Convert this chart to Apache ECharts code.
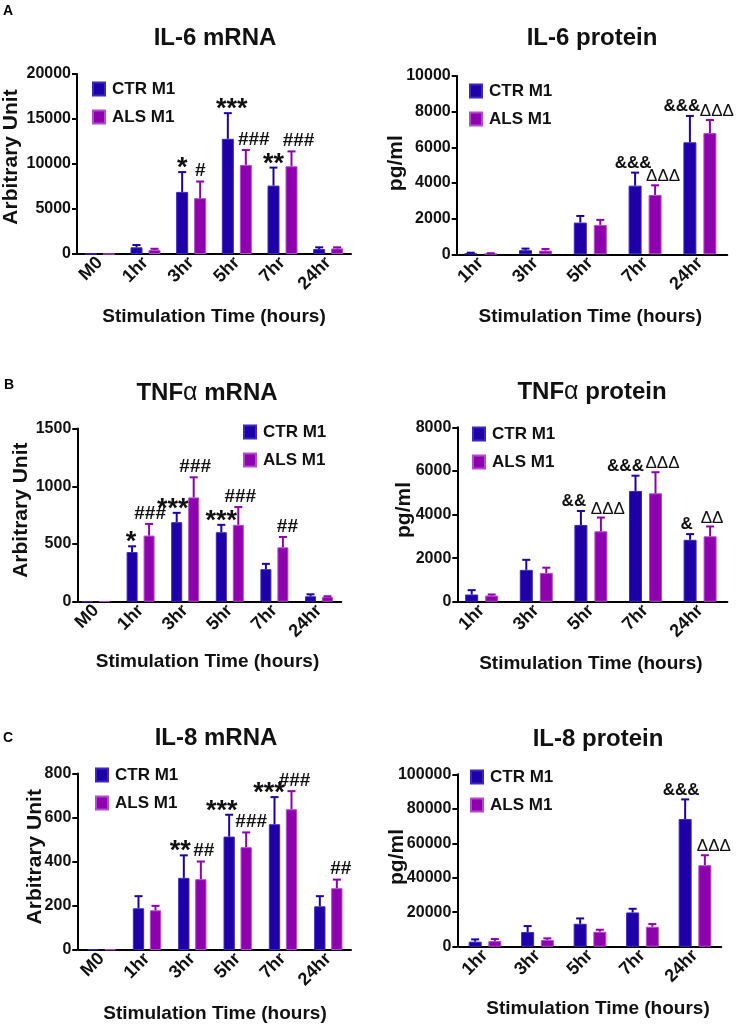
<!DOCTYPE html>
<html><head><meta charset="utf-8">
<script src="https://cdn.jsdelivr.net/npm/echarts@6/dist/echarts.min.js"></script>
<style>html,body{margin:0;padding:0;background:#fff}#c{width:739px;height:1025px}</style>
</head><body><div id="c"></div>
<script>
// ---------- DATA ----------
const catsMrna = ['M0', '1hr', '3hr', '5hr', '7hr', '24hr'];
const catsProt = ['1hr', '3hr', '5hr', '7hr', '24hr'];
const seriesNames = ['CTR M1', 'ALS M1'];

// IL-6 mRNA
const il6mCtr = [5, 740, 6900, 12800, 7600, 550];
const il6mCtrSem = [0, 260, 2200, 2850, 2000, 190];
const il6mAls = [5, 450, 6200, 9900, 9750, 620];
const il6mAlsSem = [0, 130, 1850, 1650, 1650, 120];
const il6mCtrAnn = ['', '', '*', '***', '**', ''];
const il6mAlsAnn = ['', '', '#', '###', '###', ''];

// IL-6 protein
const il6pCtr = [50, 230, 1780, 3850, 6280];
const il6pCtrSem = [40, 90, 370, 730, 1480];
const il6pAls = [35, 210, 1650, 3330, 6800];
const il6pAlsSem = [25, 90, 280, 540, 730];
const il6pCtrAnn = ['', '', '', '&&&', '&&&'];
const il6pAlsAnn = ['', '', '', 'ΔΔΔ', 'ΔΔΔ'];

// TNFα mRNA
const tnfmCtr = [0, 430, 689, 602, 282, 47];
const tnfmCtrSem = [0, 50, 81, 64, 46, 17];
const tnfmAls = [3, 573, 904, 666, 471, 41];
const tnfmAlsSem = [0, 101, 174, 154, 90, 6];
const tnfmCtrAnn = ['', '*', '***', '***', '', ''];
const tnfmAlsAnn = ['', '###', '###', '###', '##', ''];

// TNFα protein
const tnfpCtr = [330, 1460, 3520, 5080, 2840];
const tnfpCtrSem = [200, 460, 640, 700, 260];
const tnfpAls = [280, 1320, 3230, 4970, 3000];
const tnfpAlsSem = [50, 240, 630, 970, 450];
const tnfpCtrAnn = ['', '', '&&', '&&&', '&'];
const tnfpAlsAnn = ['', '', 'ΔΔΔ', 'ΔΔΔ', 'ΔΔ'];

// IL-8 mRNA
const il8mCtr = [3, 189, 327, 514, 570, 198];
const il8mCtrSem = [0, 55, 102, 99, 123, 46];
const il8mAls = [3, 180, 321, 466, 638, 280];
const il8mAlsSem = [0, 20, 80, 67, 82, 39];
const il8mCtrAnn = ['', '', '**', '***', '***', ''];
const il8mAlsAnn = ['', '', '##', '###', '###', '##'];

// IL-8 protein
const il8pCtr = [2900, 8490, 13310, 19870, 74070];
const il8pCtrSem = [1350, 3470, 3090, 2120, 11380];
const il8pAls = [3300, 3870, 8680, 11570, 47260];
const il8pAlsSem = [1150, 960, 1160, 1550, 5790];
const il8pCtrAnn = ['', '', '', '', '&&&'];
const il8pAlsAnn = ['', '', '', '', 'ΔΔΔ'];

// axis scales [min, max, interval]
const il6mAxis = [0, 20000, 5000];
const il6pAxis = [0, 10000, 2000];
const tnfmAxis = [0, 1500, 500];
const tnfpAxis = [0, 8000, 2000];
const il8mAxis = [0, 800, 200];
const il8pAxis = [0, 100000, 20000];

const titles = ['IL-6 mRNA', 'IL-6 protein', 'TNF{a|α} mRNA', 'TNF{a|α} protein', 'IL-8 mRNA', 'IL-8 protein'];
const yNames = ['Arbitrary Unit', 'pg/ml', 'Arbitrary Unit', 'pg/ml', 'Arbitrary Unit', 'pg/ml'];
const xName = 'Stimulation Time (hours)';

// ---------- LAYOUT / STYLE ----------
const FONT = '"Liberation Sans", Arial, sans-serif';
const COLORS = ['#1f00a6', '#8e00ae'];
const BORDERS = ['#3b27c2', '#b24ccc'];

// horizontal nudges of significance marks (px), per panel [ctr, als]
const panels = [
  {cats: catsMrna, d: [il6mCtr, il6mAls], s: [il6mCtrSem, il6mAlsSem], a: [il6mCtrAnn, il6mAlsAnn], ax: il6mAxis,
   grid: {left: 77, top: 74, width: 274, height: 180}, yOff: 0, bw: 12, gap: 6,
   title: [215, 38], legend: [92, 80.5], xGap: 53, yGap: 55, xPad: 0, yPad: 14,
   shift: [[0, 0, 0, 4, 0, 0], [0, 0, 0, 8, 7, 0]]},
  {cats: catsProt, d: [il6pCtr, il6pAls], s: [il6pCtrSem, il6pAlsSem], a: [il6pCtrAnn, il6pAlsAnn], ax: il6pAxis,
   grid: {left: 453.3, top: 76, width: 274, height: 178.3}, yOff: -3.4, bw: 13, gap: 7,
   title: [592, 38], legend: [469, 82.5], xGap: 53, yGap: 50, xPad: 0, yPad: 4,
   shift: [[0, 0, 0, -2, -8], [0, 0, 0, 8, 7]]},
  {cats: catsMrna, d: [tnfmCtr, tnfmAls], s: [tnfmCtrSem, tnfmAlsSem], a: [tnfmCtrAnn, tnfmAlsAnn], ax: tnfmAxis,
   grid: {left: 73.7, top: 428.6, width: 267.6, height: 173.1}, yOff: -3.6, bw: 11, gap: 6,
   title: [207, 393], legend: [243, 423.5], xGap: 51, yGap: 46, xPad: 0, yPad: 10,
   shift: [[0, -1, -4, 0, 0, 0], [0, 1, 1.5, 2, 4.5, 0]]},
  {cats: catsProt, d: [tnfpCtr, tnfpAls], s: [tnfpCtrSem, tnfpAlsSem], a: [tnfpCtrAnn, tnfpAlsAnn], ax: tnfpAxis,
   grid: {left: 454.4, top: 427.3, width: 273, height: 174.4}, yOff: -2.9, bw: 13, gap: 7,
   title: [592, 392], legend: [472, 425.5], xGap: 53, yGap: 43, xPad: 0, yPad: 9,
   shift: [[0, 0, -7, -10, -3.5], [0, 0, 7, 7, 2]]},
  {cats: catsMrna, d: [il8mCtr, il8mAls], s: [il8mCtrSem, il8mAlsSem], a: [il8mCtrAnn, il8mAlsAnn], ax: il8mAxis,
   grid: {left: 79, top: 773.5, width: 272, height: 176.5}, yOff: 1.7, bw: 11.3, gap: 5.7,
   title: [216, 738], legend: [95, 766.5], xGap: 54, yGap: 32, xPad: 0, yPad: 10,
   shift: [[0, 0, -3.5, -7.5, -5.5, 0], [0, 0, 3, 5, 3, 4]]},
  {cats: catsProt, d: [il8pCtr, il8pAls], s: [il8pCtrSem, il8pAlsSem], a: [il8pCtrAnn, il8pAlsAnn], ax: il8pAxis,
   grid: {left: 458.75, top: 774.3, width: 262.5, height: 172.4}, yOff: 1.4, bw: 13, gap: 6.7,
   title: [598, 739], legend: [470, 768.5], xGap: 53, yGap: 50, xPad: 16, yPad: 7,
   shift: [[0, 0, 0, 0, -4], [0, 0, 0, 0, 9]]}
];

function annStyle(t) {
  if (t[0] === '*') return {font: 'bold 27px ' + FONT, dy: 10};
  if (t[0] === '#') return {font: 'bold 19px ' + FONT, dy: -1};
  if (t[0] === '&') return {font: 'bold 17px ' + FONT, dy: -1};
  return {font: 'normal 17px ' + FONT, dy: 0};
}

const option = {
  animation: false,
  backgroundColor: '#fff',
  title: [], grid: [], xAxis: [], yAxis: [], legend: [], series: [],
  graphic: [
    {type: 'text', left: 3, top: 4, style: {text: 'A', font: 'bold 14px ' + FONT, fill: '#000'}},
    {type: 'text', left: 4, top: 378, style: {text: 'B', font: 'bold 14px ' + FONT, fill: '#000'}},
    {type: 'text', left: 3, top: 731, style: {text: 'C', font: 'bold 14px ' + FONT, fill: '#000'}}
  ]
};

panels.forEach((p, gi) => {
  option.title.push({
    text: titles[gi], left: p.title[0], top: p.title[1] - 12, textAlign: 'center', padding: 0,
    textStyle: {fontFamily: FONT, fontWeight: 'bold', fontSize: 24, color: '#111',
      rich: {a: {fontFamily: FONT, fontWeight: 'normal', fontSize: 25, color: '#111'}}}
  });
  option.grid.push(Object.assign({outerBoundsMode: 'none', containLabel: false}, p.grid));
  option.xAxis.push({
    type: 'category', gridIndex: gi, data: p.cats, boundaryGap: true,
    axisLine: {lineStyle: {color: '#000', width: 2}},
    axisTick: {alignWithLabel: true, length: 5, lineStyle: {color: '#000', width: 2}},
    axisLabel: {interval: 0, rotate: 45, margin: 6, color: '#111', fontFamily: FONT, fontWeight: 'bold', fontSize: 18},
    name: xName, nameLocation: 'middle', nameGap: p.xGap, nameMoveOverlap: false,
    nameTextStyle: {fontFamily: FONT, fontWeight: 'bold', fontSize: 19, color: '#111', padding: [0, 0, 0, p.xPad]},
    splitLine: {show: false}
  });
  option.yAxis.push({
    type: 'value', gridIndex: gi, min: p.ax[0], max: p.ax[1], interval: p.ax[2], offset: p.yOff,
    axisLine: {show: true, lineStyle: {color: '#000', width: 2}},
    axisTick: {show: true, length: 5, lineStyle: {color: '#000', width: 2}},
    axisLabel: {margin: 6, color: '#111', fontFamily: FONT, fontWeight: 'bold', fontSize: 16, formatter: v => String(v)},
    splitLine: {show: false},
    name: yNames[gi], nameLocation: 'middle', nameGap: p.yGap, nameMoveOverlap: false,
    nameTextStyle: {fontFamily: FONT, fontWeight: 'bold', fontSize: 21, color: '#111', padding: [0, 0, 0, p.yPad]}
  });
  option.legend.push({
    orient: 'vertical', left: p.legend[0], top: p.legend[1], data: seriesNames, padding: 0,
    icon: 'rect', itemWidth: 12, itemHeight: 13, itemGap: 11, selectedMode: false,
    textStyle: {fontFamily: FONT, fontWeight: 'bold', fontSize: 17, color: '#111', padding: [0, 0, 0, 2]}
  });
  [0, 1].forEach(si => {
    option.series.push({
      type: 'bar', name: seriesNames[si], xAxisIndex: gi, yAxisIndex: gi, data: p.d[si],
      barWidth: p.bw, barGap: (p.gap / p.bw * 100) + '%',
      itemStyle: {color: COLORS[si], borderColor: BORDERS[si], borderWidth: 1}
    });
  });
  [0, 1].forEach(si => {
    const vals = p.d[si], sems = p.s[si], anns = p.a[si], sh = p.shift[si];
    option.series.push({
      type: 'custom', name: seriesNames[si] + ' err', xAxisIndex: gi, yAxisIndex: gi, z: 5,
      data: vals.map((v, i) => [i, v, v + sems[i]]),
      renderItem: (params, api) => {
        const i = api.value(0), v = api.value(1), up = api.value(2);
        const p0 = api.coord([i, v]), p1 = api.coord([i, up]);
        const cx = p0[0] + (si === 0 ? -1 : 1) * (p.bw + p.gap) / 2;
        const ch = [];
        if (up > v) {
          ch.push({type: 'line', shape: {x1: cx, y1: p0[1], x2: cx, y2: p1[1]}, style: {stroke: COLORS[si], lineWidth: 2}});
          ch.push({type: 'line', shape: {x1: cx - 4, y1: p1[1], x2: cx + 4, y2: p1[1]}, style: {stroke: COLORS[si], lineWidth: 2}});
        }
        const t = anns[params.dataIndex];
        if (t) {
          const st = annStyle(t);
          ch.push({type: 'text', x: cx + sh[params.dataIndex], y: p1[1] + st.dy,
            style: {text: t, font: st.font, fill: '#111', align: 'center', verticalAlign: 'bottom'}});
        }
        return {type: 'group', children: ch};
      }
    });
  });
});

const chart = echarts.init(document.getElementById('c'), null, {renderer: 'canvas'});
chart.setOption(option);
</script></body></html>
